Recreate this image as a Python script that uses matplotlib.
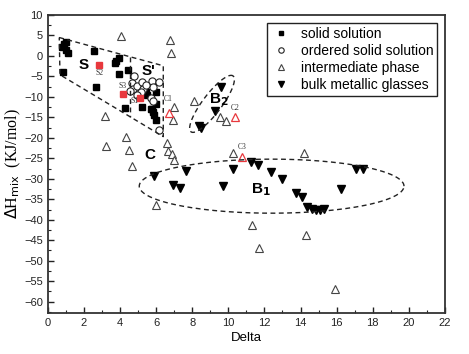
import numpy as np
import matplotlib
matplotlib.use("Agg")
import matplotlib.pyplot as plt
from matplotlib.ticker import MultipleLocator

plt.rcParams['font.family'] = ['Liberation Sans', 'DejaVu Sans']

# solid solution (black squares)
ss_x = [1.0, 0.9, 0.8, 1.0, 1.1, 0.85, 2.58, 2.7, 3.73, 3.8, 3.95, 3.97, 4.43,
        4.26, 5.22, 5.47, 6.0, 6.02, 5.72, 5.85, 5.89, 5.98, 5.5, 5.8]
ss_y = [3.5, 2.8, 2.2, 1.5, 0.7, -4.0, 1.2, -7.6, -1.8, -1.2, -0.6, -4.4, -3.5,
        -12.7, -12.4, -8.9, -8.9, -11.8, -12.9, -13.7, -14.5, -15.6, -9.5, -13.0]

# ordered solid solution (open circles)
oss_x = [4.78, 4.67, 4.71, 4.93, 5.2, 5.26, 5.15, 4.96, 5.76, 6.18, 5.81, 5.72,
         5.85, 6.18, 4.55, 5.45]
oss_y = [-4.9, -6.7, -8.1, -7.3, -6.3, -8.0, -8.9, -9.5, -6.1, -6.4, -7.6, -10.3,
         -11.1, -18.0, -8.6, -7.0]

# intermediate phase (open triangles)
ip_x = [4.06, 6.77, 6.83, 7.01, 6.96, 8.12, 3.17, 3.23, 4.34, 4.48, 4.65, 6.59,
        6.68, 6.86, 6.99, 6.0, 9.54, 9.87, 10.24, 14.19, 11.3, 11.72, 14.3, 15.93]
ip_y = [4.9, 3.9, 0.8, -12.4, -15.6, -10.9, -14.6, -22.1, -19.8, -22.9, -26.8,
        -21.2, -23.3, -23.9, -25.4, -36.3, -15.0, -15.8, -23.7, -23.7, -41.2,
        -46.9, -43.8, -56.8]

# bulk metallic glasses (filled down triangles)
bmg_x = [9.6, 9.26, 8.39, 8.5, 5.89, 7.64, 10.24, 6.92, 7.33, 9.69, 11.24, 11.66,
         17.1, 17.44, 12.35, 13.0, 13.75, 14.06, 14.34, 14.62, 14.86, 15.08,
         15.31, 16.22]
bmg_y = [-7.6, -13.4, -17.2, -17.6, -29.4, -28.0, -27.6, -31.5, -32.3, -31.7,
         -25.9, -26.7, -27.6, -27.6, -28.4, -30.0, -33.5, -34.5, -37.0, -37.4,
         -37.6, -37.6, -37.4, -32.5]

# highlighted samples
red_sq_names = ['S1', 'S2', 'S3']
red_sq_x = [5.11, 2.84, 4.17]
red_sq_y = [-10.2, -2.2, -9.3]
red_tri_names = ['C1', 'C2', 'C3']
red_tri_x = [6.73, 10.37, 10.78]
red_tri_y = [-14.0, -14.8, -24.6]

fig = plt.figure(figsize=(4.69, 3.54), dpi=100)
ax = fig.add_axes([0.1017, 0.1167, 0.8471, 0.8409])

ax.plot(ss_x, ss_y, 's', color='black', ms=4.2, ls='none', label='solid solution')
ax.plot(oss_x, oss_y, 'o', mfc='white', mec='#222222', mew=0.8, ms=5.2, ls='none',
        label='ordered solid solution')
ax.plot(ip_x, ip_y, '^', mfc='white', mec='#444444', mew=0.8, ms=5.5, ls='none',
        label='intermediate phase')
ax.plot(bmg_x, bmg_y, 'v', color='black', ms=6, ls='none', label='bulk metallic glasses')
ax.plot(red_sq_x, red_sq_y, 's', color='#e8383d', ms=4.5, ls='none')
ax.plot(red_tri_x, red_tri_y, '^', mfc='white', mec='#e8383d', mew=0.9, ms=5.5, ls='none')

small = dict(family='Liberation Serif', fontsize=5.5, color='#333333', ha='center')
offs = {'S1': (-0.3, -0.8), 'S2': (0.05, -2.0), 'S3': (-0.02, 2.0),
        'C1': (-0.05, 3.4), 'C2': (0.0, 2.2), 'C3': (0.0, 2.3)}
for n, x, y in zip(red_sq_names + red_tri_names, red_sq_x + red_tri_x,
                   red_sq_y + red_tri_y):
    dx, dy = offs[n]
    ax.text(x + dx, y + dy, n, va='center', **small)

# dashed region outlines
dash = dict(color='#222222', lw=1.0, ls=(0, (3.5, 2.5)))
poly_x = [0.64, 6.4, 6.4, 0.68, 0.64]
poly_y = [4.5, -2.4, -19.7, -4.6, 4.5]
ax.plot(poly_x, poly_y, **dash)
ax.plot([4.56, 4.56], [-0.2, -14.85], **dash)

sx, sy = 18.06, 4.096  # pixels per data unit


def ellipse(cx, cy, a, b, ang):
    t = np.linspace(0, 2 * np.pi, 200)
    th = np.radians(ang)
    px = a * np.cos(t) * np.cos(th) - b * np.sin(t) * np.sin(th)
    py = a * np.cos(t) * np.sin(th) + b * np.sin(t) * np.cos(th)
    return cx + px / sx, cy + py / sy


ex, ey = ellipse(9.1, -11.7, 35, 9.5, 53)
ax.plot(ex, ey, **dash)
ex, ey = ellipse(12.4, -31.8, 7.33 * sx, 6.6 * sy, 0)
ax.plot(ex, ey, **dash)

big = dict(fontsize=11, fontweight='bold', ha='center', va='center')
ax.text(1.97, -2.2, 'S', **big)
ax.text(5.6, -3.7, "S'", **big)
ax.text(9.45, -10.7, 'B$_\\mathbf{2}$', **big)
ax.text(5.66, -24.1, 'C', **big)
ax.text(11.8, -32.7, 'B$_\\mathbf{1}$', **big)

ax.set_xlim(0, 22)
ax.set_ylim(-62.7, 10)
ax.xaxis.set_major_locator(MultipleLocator(2))
ax.xaxis.set_minor_locator(MultipleLocator(1))
ax.yaxis.set_major_locator(MultipleLocator(5))
ax.yaxis.set_minor_locator(MultipleLocator(2.5))
ax.tick_params(which='both', direction='in', top=False, right=False,
               labelsize=8, colors='#222222')
ax.tick_params(which='major', length=4, width=1)
ax.tick_params(which='minor', length=2.5, width=0.8)
for s in ax.spines.values():
    s.set_linewidth(1.3)
    s.set_color('#333333')

ax.set_xlabel('Delta', fontsize=9.5, labelpad=3)
ax.set_ylabel('$\\Delta$H$_{\\rm mix}$  (KJ/mol)', family='Liberation Serif',
              fontsize=11.5, labelpad=1)

ax.legend(loc='upper right', fontsize=10, frameon=True, fancybox=False,
          edgecolor='#222222', framealpha=1, handlelength=1.4, handletextpad=0.7,
          labelspacing=0.22, borderpad=0.3, borderaxespad=0, markerscale=0.75,
          bbox_to_anchor=(0.981, 0.974))

fig.savefig('out.png', dpi=100)
